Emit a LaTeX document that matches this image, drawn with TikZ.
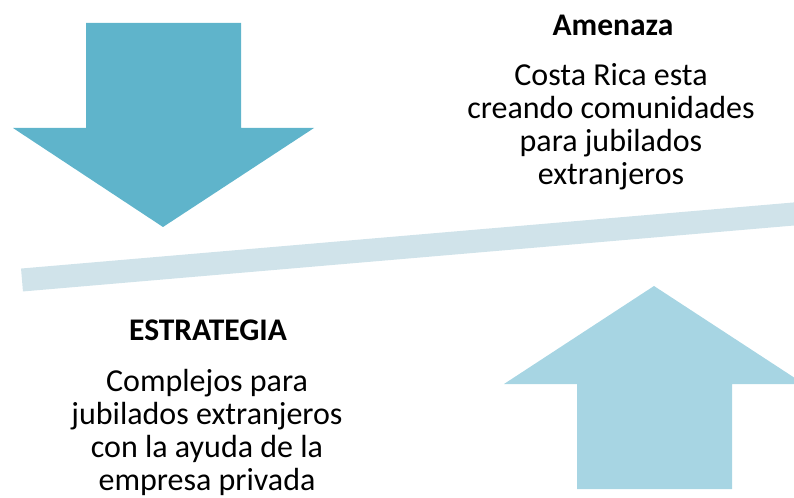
\documentclass[tikz,border=0pt]{standalone}
\usepackage{fontspec}
\setmainfont{Carlito}
\definecolor{darkarrow}{HTML}{5FB4CB}
\definecolor{lightarrow}{HTML}{A7D5E3}
\definecolor{barcol}{HTML}{D0E3EA}
\tikzset{
  bodytext/.style={anchor=base, inner sep=0pt, font=\fontsize{32bp}{33bp}\selectfont},
  titletext/.style={anchor=base, inner sep=0pt, font=\fontsize{31.5bp}{33bp}\selectfont\bfseries},
}
\begin{document}
\begin{tikzpicture}[x=1bp,y=-1bp]
\useasboundingbox (0,0) rectangle (794,498);
% down arrow
\fill[darkarrow] (86,23) -- (241,23) -- (241,128) -- (314,128) -- (163,227) -- (13,128) -- (86,128) -- cycle;
% up arrow
\fill[lightarrow] (577,489) -- (732,489) -- (732,384) -- (804,384) -- (654,286) -- (504,384) -- (577,384) -- cycle;
% bar
\begin{scope}
\clip (0,0) rectangle (794,498);
\draw[barcol, line width=23bp] (22,280) -- (810,212.6);
\end{scope}
% texts
\node[titletext] (t1) at (613,36) {Amenaza};
\node[bodytext] (a1) at (611,86) {Costa Rica esta};
\node[bodytext] (a2) at (611,119) {creando comunidades};
\node[bodytext] (a3) at (611,152) {para jubilados};
\node[bodytext] (a4) at (611,185) {extranjeros};
\node[titletext] (t2) at (208,340) {ESTRATEGIA};
\node[bodytext] (b1) at (207,391) {Complejos para};
\node[bodytext] (b2) at (207,424) {jubilados extranjeros};
\node[bodytext] (b3) at (207,457) {con la ayuda de la};
\node[bodytext] (b4) at (207,490) {empresa privada};
\end{tikzpicture}
\end{document}
